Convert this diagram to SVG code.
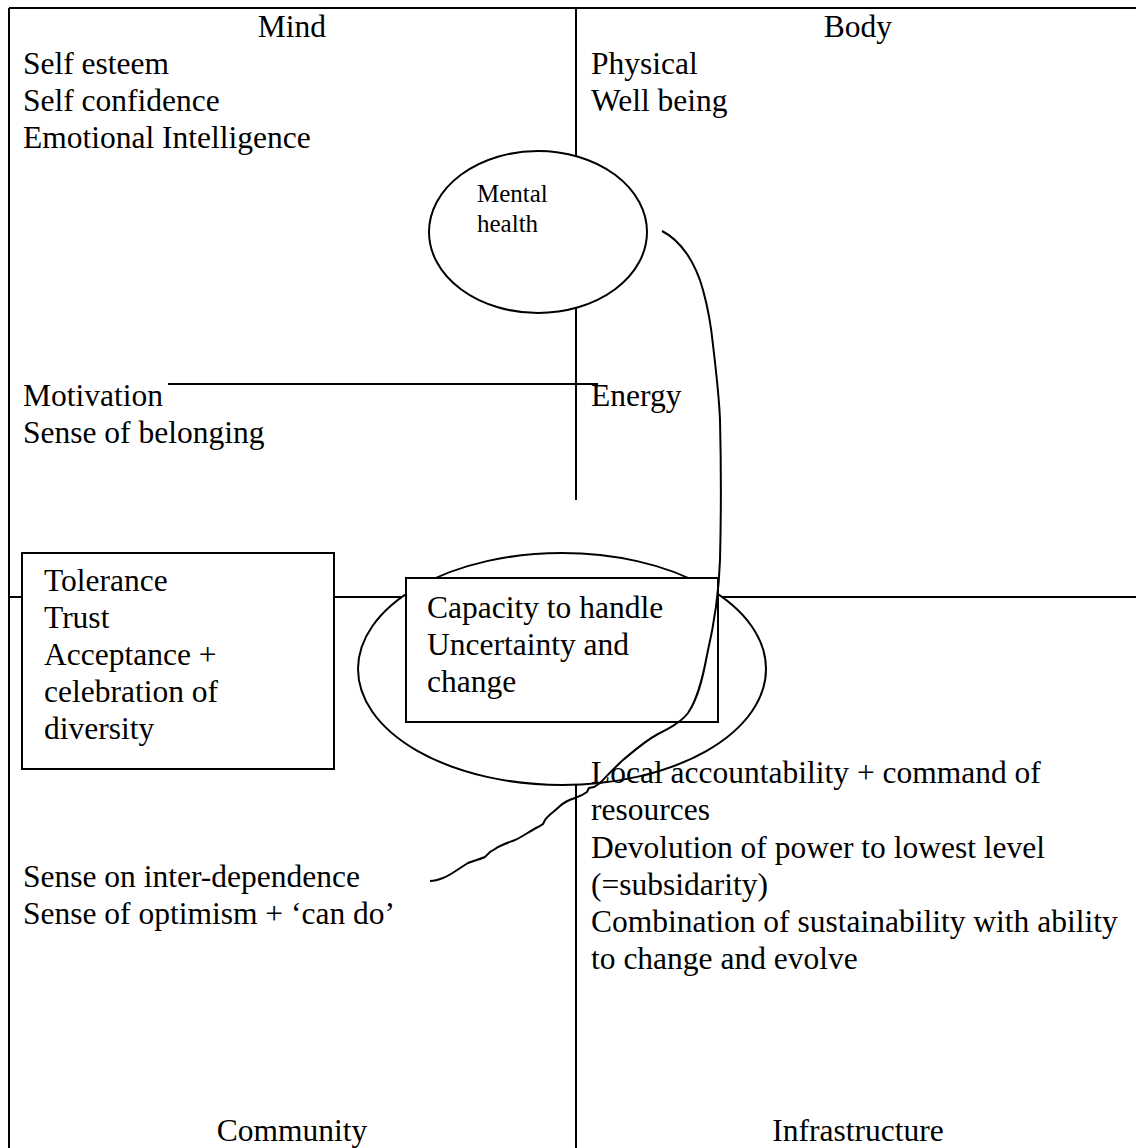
<svg xmlns="http://www.w3.org/2000/svg" width="1136" height="1148" viewBox="0 0 1136 1148">
<style>
  .ln { stroke: #000; stroke-width: 2; fill: none; }
  .shape { stroke: #000; stroke-width: 2; fill: #fff; }
  .t { font-family: "Liberation Serif", "Times New Roman", serif; font-size: 31.5px; fill: #000; }
  .ts { font-family: "Liberation Serif", "Times New Roman", serif; font-size: 25px; fill: #000; }
  .c { text-anchor: middle; }
</style>
<rect x="0" y="0" width="1136" height="1148" fill="#fff"/>
<g id="frame">
  <line class="ln" x1="9" y1="8" x2="1136" y2="8"/>
  <line class="ln" x1="9" y1="8" x2="9" y2="1148"/>
  <line class="ln" x1="576" y1="8" x2="576" y2="500"/>
  <line class="ln" x1="576" y1="785" x2="576" y2="1148"/>
  <line class="ln" x1="9" y1="597" x2="1136" y2="597"/>
</g>
<g id="connectors">
  <line class="ln" x1="168" y1="384" x2="598" y2="384"/>
</g>
<g id="quadrant-mind">
  <text class="t c" x="292" y="37">Mind</text>
  <text class="t" x="23" y="74">Self esteem</text>
  <text class="t" x="23" y="111">Self confidence</text>
  <text class="t" x="23" y="148">Emotional Intelligence</text>
  <text class="t" x="23" y="406">Motivation</text>
  <text class="t" x="23" y="443">Sense of belonging</text>
</g>
<g id="quadrant-body">
  <text class="t c" x="858" y="37">Body</text>
  <text class="t" x="591" y="74">Physical</text>
  <text class="t" x="591" y="111">Well being</text>
  <text class="t" x="591" y="406">Energy</text>
</g>
<g id="node-mental-health">
  <ellipse class="shape" cx="538" cy="232" rx="109" ry="81"/>
  <text class="ts" x="477" y="202">Mental</text>
  <text class="ts" x="477" y="232">health</text>
</g>
<g id="node-tolerance">
  <rect class="shape" x="22" y="553" width="312" height="216"/>
  <text class="t" x="44" y="591">Tolerance</text>
  <text class="t" x="44" y="628">Trust</text>
  <text class="t" x="44" y="665">Acceptance +</text>
  <text class="t" x="44" y="702">celebration of</text>
  <text class="t" x="44" y="739">diversity</text>
</g>
<g id="node-capacity">
  <ellipse class="shape" cx="562" cy="669" rx="204" ry="116"/>
  <rect class="shape" x="406" y="578" width="312" height="144"/>
  <text class="t" x="427" y="618">Capacity to handle</text>
  <text class="t" x="427" y="655">Uncertainty and</text>
  <text class="t" x="427" y="692">change</text>
</g>
<g id="quadrant-community">
  <text class="t" x="23" y="887">Sense on inter-dependence</text>
  <text class="t" x="23" y="924">Sense of optimism + ‘can do’</text>
  <text class="t c" x="292" y="1141">Community</text>
</g>
<g id="quadrant-infrastructure">
  <text class="t" x="591" y="783">Local accountability + command of</text>
  <text class="t" x="591" y="820">resources</text>
  <text class="t" x="591" y="858">Devolution of power to lowest level</text>
  <text class="t" x="591" y="895">(=subsidarity)</text>
  <text class="t" x="591" y="932">Combination of sustainability with ability</text>
  <text class="t" x="591" y="969">to change and evolve</text>
  <text class="t c" x="858" y="1141">Infrastructure</text>
</g>
<g id="curve-connector">
  <path class="ln" stroke-width="1.6" d="M662,231 C672,236 680,244 687,254 C693,263 699,275 703,290 C708,308 711,325 713,345 C716,370 719,395 720,420 C721,460 721,520 720,560 C719,590 714,625 707,655 C702,682 697,700 688,713 C680,723 668,729 658,734 C645,741 635,750 623,760 C612,770 606,777 600,783 L594,787 L589,788 L587,792 C583,795 578,797 575,798 C569,800 563,803 560,806 C555,811 548,815 545,820 L543,824 L538,827 C530,831 522,837 515,840 C507,843 500,845 495,849 L490,852 L485,857 C478,860 472,861 468,863 C458,869 451,875 443,878 C438,880 434,881 430,881"/>
</g>
</svg>
